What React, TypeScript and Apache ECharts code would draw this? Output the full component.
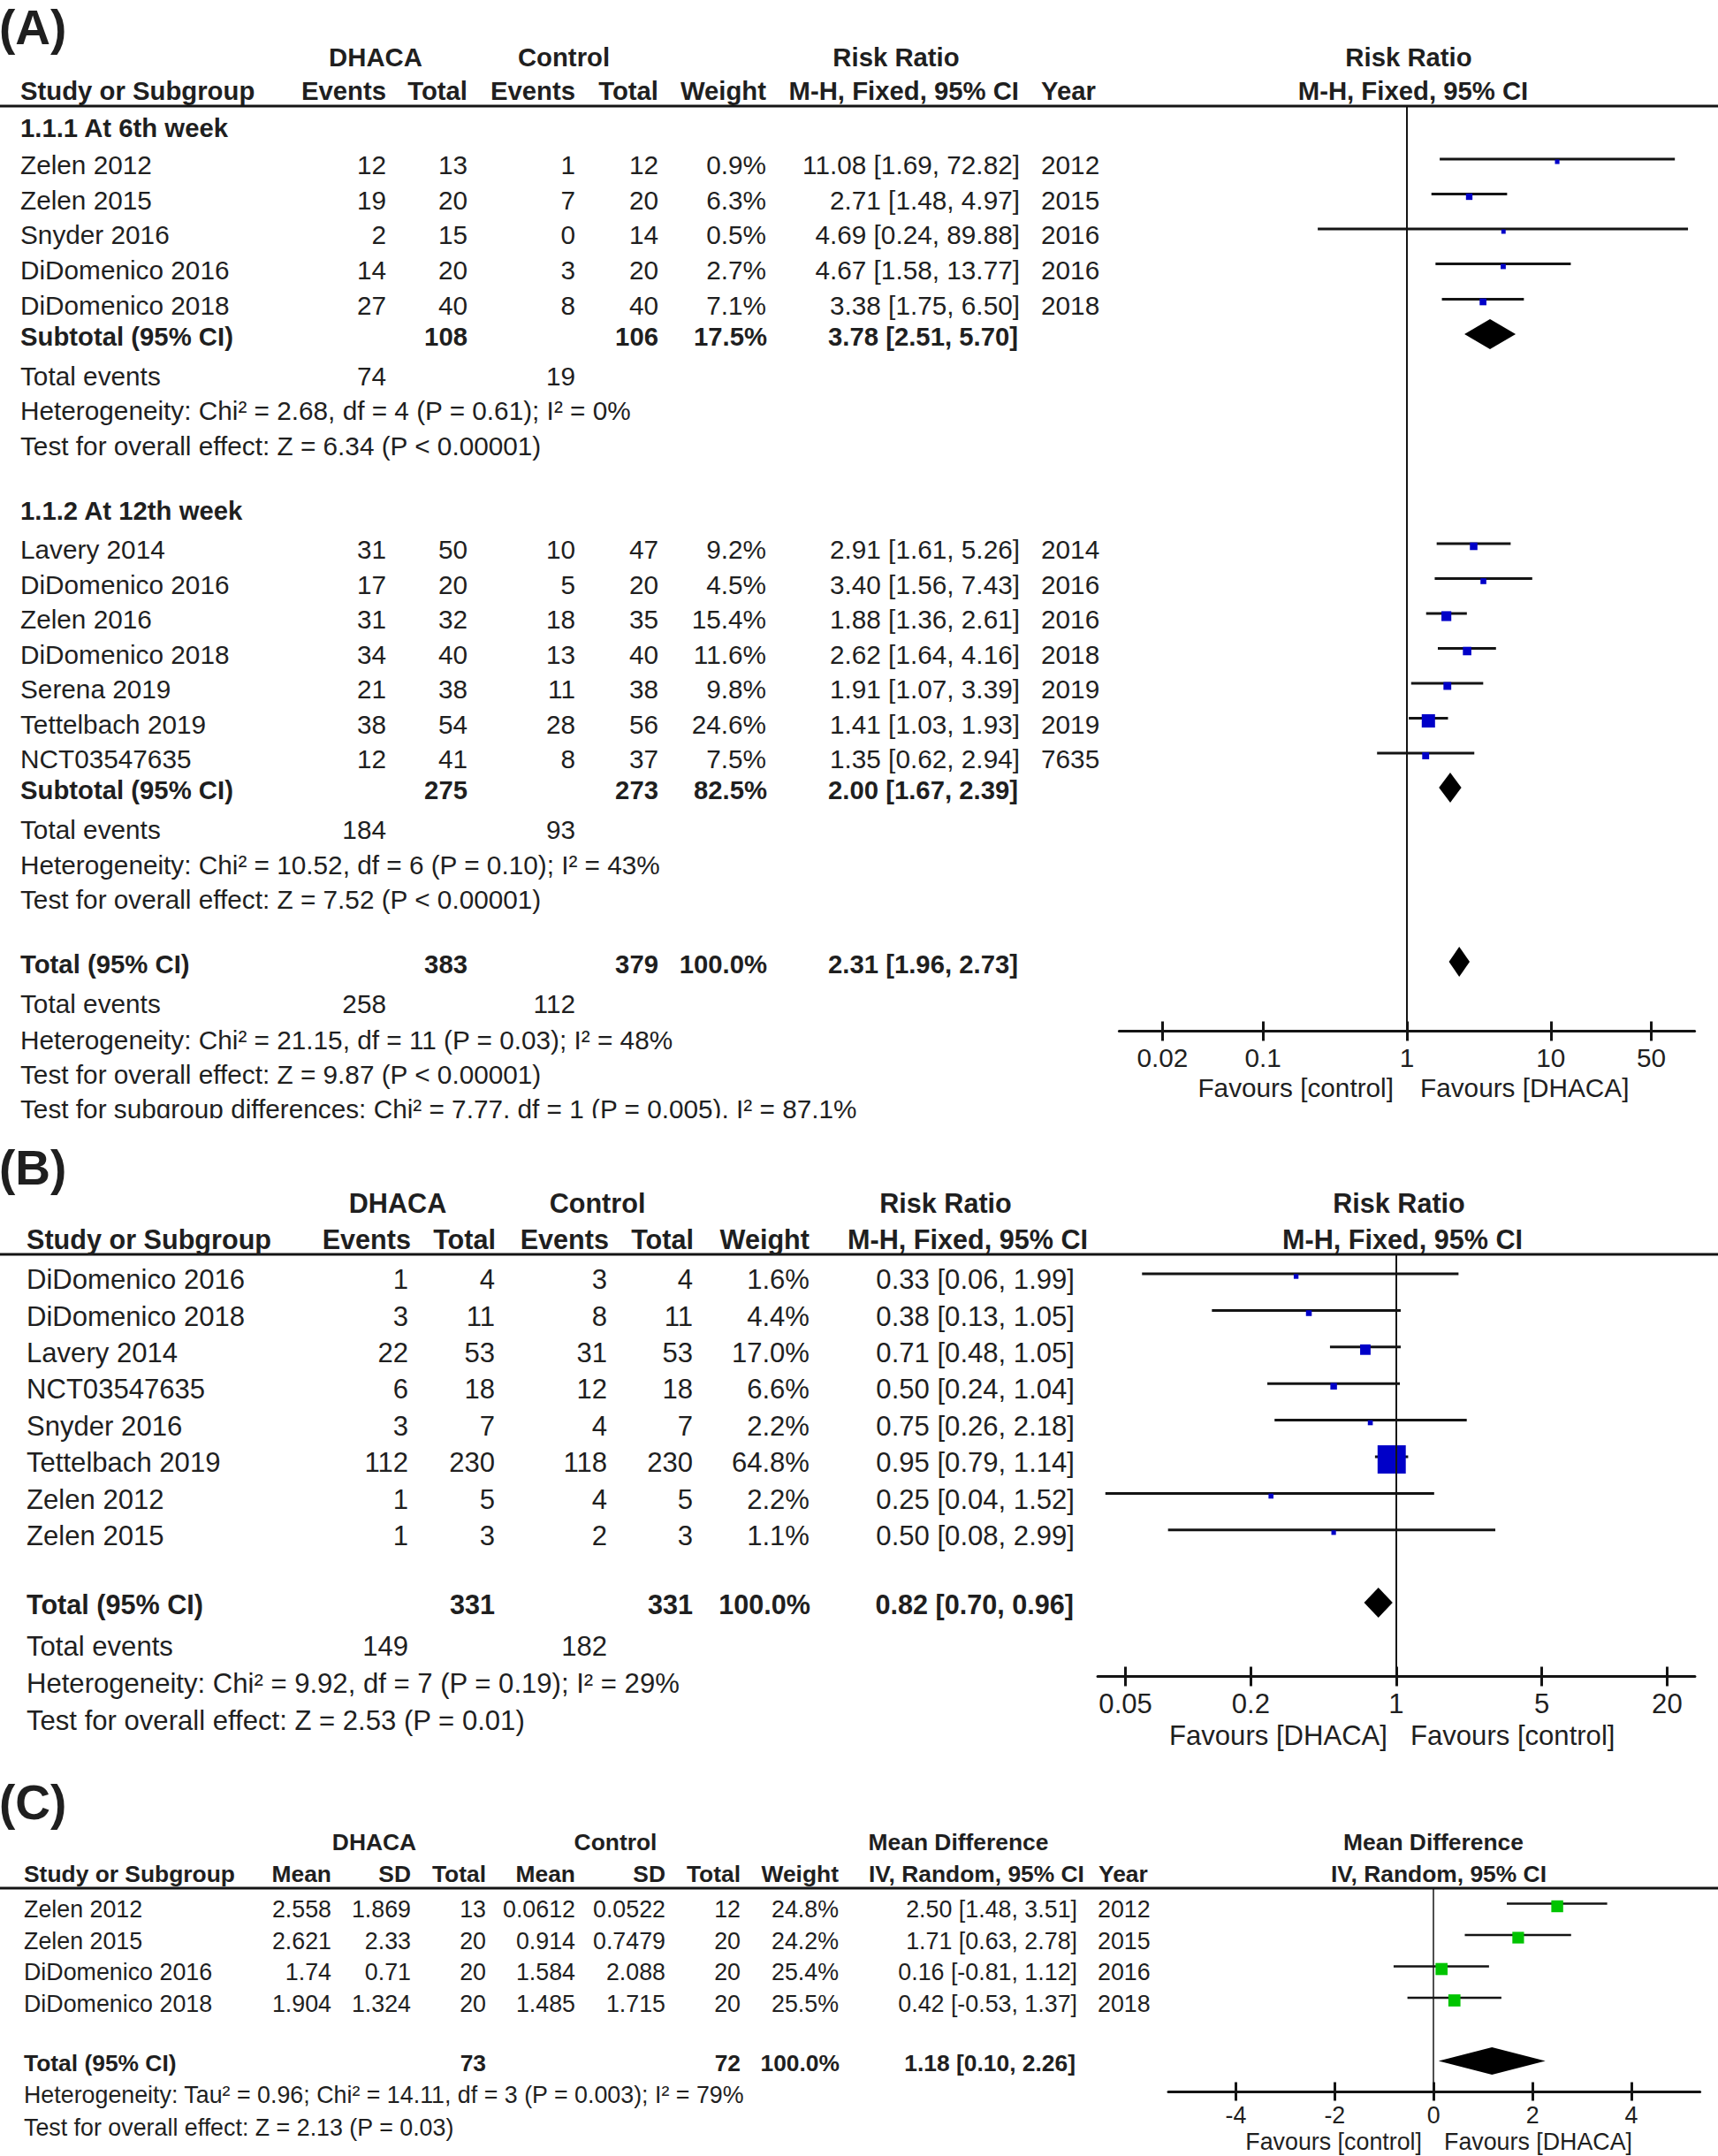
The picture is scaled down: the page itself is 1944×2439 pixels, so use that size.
import React, { useEffect, useRef } from "react";
import * as echarts from "echarts";

// ================= Panel (A) data =================
const A1_TITLE = "1.1.1 At 6th week";
const A1_STUDY = ["Zelen 2012", "Zelen 2015", "Snyder 2016", "DiDomenico 2016", "DiDomenico 2018"];
const A1_EV_D = [12, 19, 2, 14, 27];
const A1_TOT_D = [13, 20, 15, 20, 40];
const A1_EV_C = [1, 7, 0, 3, 8];
const A1_TOT_C = [12, 20, 14, 20, 40];
const A1_WEIGHT = [0.9, 6.3, 0.5, 2.7, 7.1];
const A1_RR = [11.08, 2.71, 4.69, 4.67, 3.38];
const A1_LO = [1.69, 1.48, 0.24, 1.58, 1.75];
const A1_HI = [72.82, 4.97, 89.88, 13.77, 6.5];
const A1_YEAR = ["2012", "2015", "2016", "2016", "2018"];
const A1_SUB_N = [108, 106];
const A1_SUB_WEIGHT = 17.5;
const A1_SUB_EST = [3.78, 2.51, 5.7];
const A1_EVENTS = [74, 19];
const A1_STATS = [
  "Heterogeneity: Chi\u00b2 = 2.68, df = 4 (P = 0.61); I\u00b2 = 0%",
  "Test for overall effect: Z = 6.34 (P < 0.00001)",
];

const A2_TITLE = "1.1.2 At 12th week";
const A2_STUDY = ["Lavery 2014", "DiDomenico 2016", "Zelen 2016", "DiDomenico 2018", "Serena 2019", "Tettelbach 2019", "NCT03547635"];
const A2_EV_D = [31, 17, 31, 34, 21, 38, 12];
const A2_TOT_D = [50, 20, 32, 40, 38, 54, 41];
const A2_EV_C = [10, 5, 18, 13, 11, 28, 8];
const A2_TOT_C = [47, 20, 35, 40, 38, 56, 37];
const A2_WEIGHT = [9.2, 4.5, 15.4, 11.6, 9.8, 24.6, 7.5];
const A2_RR = [2.91, 3.4, 1.88, 2.62, 1.91, 1.41, 1.35];
const A2_LO = [1.61, 1.56, 1.36, 1.64, 1.07, 1.03, 0.62];
const A2_HI = [5.26, 7.43, 2.61, 4.16, 3.39, 1.93, 2.94];
const A2_YEAR = ["2014", "2016", "2016", "2018", "2019", "2019", "7635"];
const A2_SUB_N = [275, 273];
const A2_SUB_WEIGHT = 82.5;
const A2_SUB_EST = [2.0, 1.67, 2.39];
const A2_EVENTS = [184, 93];
const A2_STATS = [
  "Heterogeneity: Chi\u00b2 = 10.52, df = 6 (P = 0.10); I\u00b2 = 43%",
  "Test for overall effect: Z = 7.52 (P < 0.00001)",
];

const A_TOT_N = [383, 379];
const A_TOT_WEIGHT = 100.0;
const A_TOT_EST = [2.31, 1.96, 2.73];
const A_EVENTS = [258, 112];
const A_STATS = [
  "Heterogeneity: Chi\u00b2 = 21.15, df = 11 (P = 0.03); I\u00b2 = 48%",
  "Test for overall effect: Z = 9.87 (P < 0.00001)",
  "Test for subgroup differences: Chi\u00b2 = 7.77, df = 1 (P = 0.005), I\u00b2 = 87.1%",
];
const A_TICKS = [0.02, 0.1, 1, 10, 50];
const A_FAVOURS = ["Favours [control]", "Favours [DHACA]"];

// ================= Panel (B) data =================
const B_STUDY = ["DiDomenico 2016", "DiDomenico 2018", "Lavery 2014", "NCT03547635", "Snyder 2016", "Tettelbach 2019", "Zelen 2012", "Zelen 2015"];
const B_EV_D = [1, 3, 22, 6, 3, 112, 1, 1];
const B_TOT_D = [4, 11, 53, 18, 7, 230, 5, 3];
const B_EV_C = [3, 8, 31, 12, 4, 118, 4, 2];
const B_TOT_C = [4, 11, 53, 18, 7, 230, 5, 3];
const B_WEIGHT = [1.6, 4.4, 17.0, 6.6, 2.2, 64.8, 2.2, 1.1];
const B_RR = [0.33, 0.38, 0.71, 0.5, 0.75, 0.95, 0.25, 0.5];
const B_LO = [0.06, 0.13, 0.48, 0.24, 0.26, 0.79, 0.04, 0.08];
const B_HI = [1.99, 1.05, 1.05, 1.04, 2.18, 1.14, 1.52, 2.99];
const B_TOT_N = [331, 331];
const B_TOT_WEIGHT = 100.0;
const B_TOT_EST = [0.82, 0.7, 0.96];
const B_EVENTS = [149, 182];
const B_STATS = [
  "Heterogeneity: Chi\u00b2 = 9.92, df = 7 (P = 0.19); I\u00b2 = 29%",
  "Test for overall effect: Z = 2.53 (P = 0.01)",
];
const B_TICKS = [0.05, 0.2, 1, 5, 20];
const B_FAVOURS = ["Favours [DHACA]", "Favours [control]"];

// ================= Panel (C) data =================
const C_STUDY = ["Zelen 2012", "Zelen 2015", "DiDomenico 2016", "DiDomenico 2018"];
const C_MEAN_D = ["2.558", "2.621", "1.74", "1.904"];
const C_SD_D = ["1.869", "2.33", "0.71", "1.324"];
const C_N_D = [13, 20, 20, 20];
const C_MEAN_C = ["0.0612", "0.914", "1.584", "1.485"];
const C_SD_C = ["0.0522", "0.7479", "2.088", "1.715"];
const C_N_C = [12, 20, 20, 20];
const C_WEIGHT = [24.8, 24.2, 25.4, 25.5];
const C_MD = [2.5, 1.71, 0.16, 0.42];
const C_LO = [1.48, 0.63, -0.81, -0.53];
const C_HI = [3.51, 2.78, 1.12, 1.37];
const C_YEAR = ["2012", "2015", "2016", "2018"];
const C_TOT_N = [73, 72];
const C_TOT_WEIGHT = 100.0;
const C_TOT_EST = [1.18, 0.1, 2.26];
const C_STATS = [
  "Heterogeneity: Tau\u00b2 = 0.96; Chi\u00b2 = 14.11, df = 3 (P = 0.003); I\u00b2 = 79%",
  "Test for overall effect: Z = 2.13 (P = 0.03)",
];
const C_TICKS = [-4, -2, 0, 2, 4];
const C_FAVOURS = ["Favours [control]", "Favours [DHACA]"];

// ================= header texts =================
const GROUPS = ["DHACA", "Control"];
const RR_HEAD = ["Risk Ratio", "M-H, Fixed, 95% CI"];
const MD_HEAD = ["Mean Difference", "IV, Random, 95% CI"];
const COL_HEAD = ["Study or Subgroup", "Events", "Total", "Weight", "Year", "Mean", "SD"];
const ROW_HEAD = ["Subtotal (95% CI)", "Total (95% CI)", "Total events"];
const PANEL_TAGS = ["(A)", "(B)", "(C)"];

// ================= styling =================
const FONT = "'Liberation Sans', Arial, Helvetica, sans-serif";
const INK = "#1f1f1f";
const LINE = "#141414";
const BLUE = "#0000c8";
const GREEN = "#00c400";
const REG = 1.016; // regular weight renders slightly narrower than the source

function T(text: any, x: number, y: number, fs: number, align = "left", bold = false): any {
  return {
    type: "text",
    x,
    y,
    silent: true,
    z: 10,
    style: {
      text: String(text),
      fontSize: bold ? fs : fs * REG,
      fontFamily: FONT,
      fontWeight: bold ? "bold" : "normal",
      fill: INK,
      align,
      verticalAlign: "middle",
      textAlign: align,
      textVerticalAlign: "middle",
    },
  };
}
function HL(y: number, x1 = 0, x2 = 1944, w = 3): any {
  return { type: "line", silent: true, z: 5, shape: { x1, y1: y, x2, y2: y }, style: { stroke: LINE, lineWidth: w } };
}
const f2 = (v: number) => v.toFixed(2);
const est = (e: number[]) => `${f2(e[0])} [${f2(e[1])}, ${f2(e[2])}]`;
const pct = (w: number) => `${w.toFixed(1)}%`;
const lg = Math.log10;
const ident = (v: number) => v;

// layout (pixels)
const AX = { name: 23, evD: 437, totD: 529, evC: 651, totC: 745, w: 867, est: 1154, year: 1178 };
const AY = {
  h1: 64, h2: 102, rule: 120, t1: 144,
  s1: [186.5, 226, 265.5, 305, 345], sub1: 380, ev1: 425, st1: [464, 504],
  t2: 577, s2: [621.5, 661, 700.5, 740, 779.5, 819, 858.5], sub2: 893, ev2: 938, st2: [978, 1017],
  tot: 1090, evT: 1135, stT: [1176, 1215, 1254],
};
const BX = { name: 30, evD: 462, totD: 560, evC: 687, totC: 784, w: 916, est: 1216 };
const BY = { h1: 1361, h2: 1402, rule: 1419, s: [1447.5, 1489, 1530.3, 1571.7, 1613, 1654.5, 1696, 1737.3], tot: 1815, ev: 1862, st: [1904, 1946] };
const CX = { name: 27, m1: 375, sd1: 465, n1: 550, m2: 651, sd2: 753, n2: 838, w: 949, est: 1219, year: 1242 };
const CY = { h1: 2084, h2: 2120, rule: 2136, s: [2160, 2195.5, 2231, 2266.5], tot: 2333.5, st: [2370, 2407] };

const GRIDS = [
  { left: 1266.4, top: 121, width: 651.2, height: 1045.5, min: -2, max: 2 },
  { left: 1242.05, top: 1419, width: 675.9, height: 477.5, min: -1.435, max: 1.435 },
  { left: 1322, top: 2136, width: 601.6, height: 230, min: -5.367, max: 5.387 },
];

function buildOption(): any {
  const G: any[] = [];
  const fa = 29.3, fb = 30.6, fc = 26.4;

  // ---------- Panel A text ----------
  G.push(T(PANEL_TAGS[0], -1, 31, 55, "left", true));
  G.push(T(GROUPS[0], 425, AY.h1, fa, "center", true));
  G.push(T(GROUPS[1], 638, AY.h1, fa, "center", true));
  G.push(T(RR_HEAD[0], 1014, AY.h1, fa, "center", true));
  G.push(T(RR_HEAD[0], 1594, AY.h1, fa, "center", true));
  G.push(T(COL_HEAD[0], AX.name, AY.h2, fa, "left", true));
  G.push(T(COL_HEAD[1], AX.evD, AY.h2, fa, "right", true));
  G.push(T(COL_HEAD[2], AX.totD, AY.h2, fa, "right", true));
  G.push(T(COL_HEAD[1], AX.evC, AY.h2, fa, "right", true));
  G.push(T(COL_HEAD[2], AX.totC, AY.h2, fa, "right", true));
  G.push(T(COL_HEAD[3], AX.w, AY.h2, fa, "right", true));
  G.push(T(RR_HEAD[1], 1153, AY.h2, fa, "right", true));
  G.push(T(COL_HEAD[4], AX.year, AY.h2, fa, "left", true));
  G.push(T(RR_HEAD[1], 1599, AY.h2, fa, "center", true));
  G.push(HL(AY.rule));

  const evRows = (names: string[], evD: number[], totD: number[], evC: number[], totC: number[], w: number[], rr: number[], lo: number[], hi: number[], yr: string[] | null, ys: number[], X: any, fs: number) => {
    names.forEach((n, i) => {
      const y = ys[i];
      G.push(T(n, X.name, y, fs));
      G.push(T(evD[i], X.evD, y, fs, "right"));
      G.push(T(totD[i], X.totD, y, fs, "right"));
      G.push(T(evC[i], X.evC, y, fs, "right"));
      G.push(T(totC[i], X.totC, y, fs, "right"));
      G.push(T(pct(w[i]), X.w, y, fs, "right"));
      G.push(T(est([rr[i], lo[i], hi[i]]), X.est, y, fs, "right"));
      if (yr) G.push(T(yr[i], X.year, y, fs));
    });
  };
  const totRow = (label: string, n: number[], w: number, e: number[], y: number, X: any, fs: number, estX: number) => {
    G.push(T(label, X.name, y, fs, "left", true));
    G.push(T(n[0], X.totD, y, fs, "right", true));
    G.push(T(n[1], X.totC, y, fs, "right", true));
    G.push(T(pct(w), X.w + 1, y, fs, "right", true));
    G.push(T(est(e), estX, y, fs, "right", true));
  };
  const evTot = (ev: number[], y: number, X: any, fs: number) => {
    G.push(T(ROW_HEAD[2], X.name, y, fs));
    G.push(T(ev[0], X.evD, y, fs, "right"));
    G.push(T(ev[1], X.evC, y, fs, "right"));
  };

  G.push(T(A1_TITLE, AX.name, AY.t1, fa, "left", true));
  evRows(A1_STUDY, A1_EV_D, A1_TOT_D, A1_EV_C, A1_TOT_C, A1_WEIGHT, A1_RR, A1_LO, A1_HI, A1_YEAR, AY.s1, AX, fa);
  totRow(ROW_HEAD[0], A1_SUB_N, A1_SUB_WEIGHT, A1_SUB_EST, AY.sub1, AX, fa, 1152);
  evTot(A1_EVENTS, AY.ev1, AX, fa);
  A1_STATS.forEach((s, i) => G.push(T(s, AX.name, AY.st1[i], fa)));

  G.push(T(A2_TITLE, AX.name, AY.t2, fa, "left", true));
  evRows(A2_STUDY, A2_EV_D, A2_TOT_D, A2_EV_C, A2_TOT_C, A2_WEIGHT, A2_RR, A2_LO, A2_HI, A2_YEAR, AY.s2, AX, fa);
  totRow(ROW_HEAD[0], A2_SUB_N, A2_SUB_WEIGHT, A2_SUB_EST, AY.sub2, AX, fa, 1152);
  evTot(A2_EVENTS, AY.ev2, AX, fa);
  A2_STATS.forEach((s, i) => G.push(T(s, AX.name, AY.st2[i], fa)));

  totRow(ROW_HEAD[1], A_TOT_N, A_TOT_WEIGHT, A_TOT_EST, AY.tot, AX, fa, 1152);
  evTot(A_EVENTS, AY.evT, AX, fa);
  A_STATS.forEach((s, i) => G.push(T(s, AX.name, AY.stT[i], fa)));
  // the source panel is cropped just below its last line
  G.push({ type: "rect", silent: true, z: 20, shape: { x: 0, y: 1265, width: 1200, height: 22 }, style: { fill: "#fff" } });
  G.push(T(A_FAVOURS[0], 1577, 1230, fa, "right"));
  G.push(T(A_FAVOURS[1], 1607, 1230, fa, "left"));

  // ---------- Panel B text ----------
  G.push(T(PANEL_TAGS[1], -1, 1321, 55, "left", true));
  G.push(T(GROUPS[0], 450, BY.h1, fb, "center", true));
  G.push(T(GROUPS[1], 676, BY.h1, fb, "center", true));
  G.push(T(RR_HEAD[0], 1070, BY.h1, fb, "center", true));
  G.push(T(RR_HEAD[0], 1583, BY.h1, fb, "center", true));
  G.push(T(COL_HEAD[0], BX.name, BY.h2, fb, "left", true));
  G.push(T(COL_HEAD[1], 465, BY.h2, fb, "right", true));
  G.push(T(COL_HEAD[2], 561, BY.h2, fb, "right", true));
  G.push(T(COL_HEAD[1], 689, BY.h2, fb, "right", true));
  G.push(T(COL_HEAD[2], 785, BY.h2, fb, "right", true));
  G.push(T(COL_HEAD[3], BX.w, BY.h2, fb, "right", true));
  G.push(T(RR_HEAD[1], 1231, BY.h2, fb, "right", true));
  G.push(T(RR_HEAD[1], 1587, BY.h2, fb, "center", true));
  G.push(HL(BY.rule));
  evRows(B_STUDY, B_EV_D, B_TOT_D, B_EV_C, B_TOT_C, B_WEIGHT, B_RR, B_LO, B_HI, null, BY.s, BX, fb);
  totRow(ROW_HEAD[1], B_TOT_N, B_TOT_WEIGHT, B_TOT_EST, BY.tot, BX, fb, 1215);
  evTot(B_EVENTS, BY.ev, BX, fb);
  B_STATS.forEach((s, i) => G.push(T(s, BX.name, BY.st[i], fb)));
  G.push(T(B_FAVOURS[0], 1570, 1963, fb, "right"));
  G.push(T(B_FAVOURS[1], 1596, 1963, fb, "left"));

  // ---------- Panel C text ----------
  G.push(T(PANEL_TAGS[2], -1, 2039, 55, "left", true));
  G.push(T(GROUPS[0], 423.5, CY.h1, fc, "center", true));
  G.push(T(GROUPS[1], 696.5, CY.h1, fc, "center", true));
  G.push(T(MD_HEAD[0], 1084.5, CY.h1, fc, "center", true));
  G.push(T(MD_HEAD[0], 1622, CY.h1, fc, "center", true));
  G.push(T(COL_HEAD[0], CX.name, CY.h2, fc, "left", true));
  G.push(T(COL_HEAD[5], CX.m1, CY.h2, fc, "right", true));
  G.push(T(COL_HEAD[6], CX.sd1, CY.h2, fc, "right", true));
  G.push(T(COL_HEAD[2], CX.n1, CY.h2, fc, "right", true));
  G.push(T(COL_HEAD[5], CX.m2, CY.h2, fc, "right", true));
  G.push(T(COL_HEAD[6], CX.sd2, CY.h2, fc, "right", true));
  G.push(T(COL_HEAD[2], CX.n2, CY.h2, fc, "right", true));
  G.push(T(COL_HEAD[3], CX.w, CY.h2, fc, "right", true));
  G.push(T(MD_HEAD[1], 983, CY.h2, fc, "left", true));
  G.push(T(COL_HEAD[4], 1243, CY.h2, fc, "left", true));
  G.push(T(MD_HEAD[1], 1628, CY.h2, fc, "center", true));
  G.push(HL(CY.rule));
  C_STUDY.forEach((n, i) => {
    const y = CY.s[i];
    G.push(T(n, CX.name, y, fc));
    G.push(T(C_MEAN_D[i], CX.m1, y, fc, "right"));
    G.push(T(C_SD_D[i], CX.sd1, y, fc, "right"));
    G.push(T(C_N_D[i], CX.n1, y, fc, "right"));
    G.push(T(C_MEAN_C[i], CX.m2, y, fc, "right"));
    G.push(T(C_SD_C[i], CX.sd2, y, fc, "right"));
    G.push(T(C_N_C[i], CX.n2, y, fc, "right"));
    G.push(T(pct(C_WEIGHT[i]), CX.w, y, fc, "right"));
    G.push(T(est([C_MD[i], C_LO[i], C_HI[i]]), CX.est, y, fc, "right"));
    G.push(T(C_YEAR[i], CX.year, y, fc));
  });
  G.push(T(ROW_HEAD[1], CX.name, CY.tot, fc, "left", true));
  G.push(T(C_TOT_N[0], CX.n1, CY.tot, fc, "right", true));
  G.push(T(C_TOT_N[1], CX.n2, CY.tot, fc, "right", true));
  G.push(T(pct(C_TOT_WEIGHT), CX.w + 1, CY.tot, fc, "right", true));
  G.push(T(est(C_TOT_EST), 1217, CY.tot, fc, "right", true));
  C_STATS.forEach((s, i) => G.push(T(s, CX.name, CY.st[i], fc)));
  G.push(T(C_FAVOURS[0], 1609, 2423, fc, "right"));
  G.push(T(C_FAVOURS[1], 1634, 2423, fc, "left"));

  // ---------- forest plots ----------
  const szAB = (w: number) => 4.7 + 0.42 * w;
  const szC = (w: number) => 4 + 0.38 * w;
  const pts = (rr: number[], lo: number[], hi: number[], w: number[], ys: number[], f: (v: number) => number, sz: (w: number) => number) =>
    rr.map((r, i) => [f(r), f(lo[i]), f(hi[i]), ys[i] - 6.5, sz(w[i])]);
  const dia = (e: number[], y: number, h: number, f: (v: number) => number) => [f(e[0]), f(e[1]), f(e[2]), y - 2, h];

  const studySeries = (g: number, data: any[], color: string, lw: number) => ({
    type: "custom",
    coordinateSystem: "cartesian2d",
    xAxisIndex: g * 2,
    yAxisIndex: g,
    z: 4,
    silent: true,
    data,
    renderItem: (_p: any, api: any) => {
      const y = api.value(3);
      const a = api.coord([api.value(1), y]);
      const b = api.coord([api.value(2), y]);
      const c = api.coord([api.value(0), y]);
      const s = api.value(4);
      return {
        type: "group",
        children: [
          { type: "line", shape: { x1: a[0], y1: a[1], x2: b[0], y2: b[1] }, style: { stroke: LINE, lineWidth: lw } },
          { type: "rect", shape: { x: c[0] - s / 2, y: c[1] + 3 - s / 2, width: s, height: s }, style: { fill: color } },
        ],
      };
    },
  });
  const diamondSeries = (g: number, data: any[], refW: number) => ({
    type: "custom",
    coordinateSystem: "cartesian2d",
    xAxisIndex: g * 2,
    yAxisIndex: g,
    z: 3,
    silent: true,
    data,
    renderItem: (_p: any, api: any) => {
      const y = api.value(3);
      const h = api.value(4);
      const c = api.coord([api.value(0), y]);
      const a = api.coord([api.value(1), y]);
      const b = api.coord([api.value(2), y]);
      return {
        type: "polygon",
        shape: { points: [[a[0], c[1]], [c[0], c[1] - h], [b[0], c[1]], [c[0], c[1] + h]] },
        style: { fill: "#000" },
      };
    },
    markLine: {
      silent: true,
      symbol: ["none", "none"],
      label: { show: false },
      lineStyle: { color: LINE, width: refW, type: "solid" },
      data: [{ xAxis: 0 }],
    },
  });

  const series = [
    diamondSeries(0, [dia(A1_SUB_EST, AY.sub1, 17, lg), dia(A2_SUB_EST, AY.sub2, 17, lg), dia(A_TOT_EST, AY.tot, 17, lg)], 2),
    studySeries(0, [...pts(A1_RR, A1_LO, A1_HI, A1_WEIGHT, AY.s1, lg, szAB), ...pts(A2_RR, A2_LO, A2_HI, A2_WEIGHT, AY.s2, lg, szAB)], BLUE, 3),
    diamondSeries(1, [dia(B_TOT_EST, BY.tot, 17, lg)], 2),
    studySeries(1, pts(B_RR, B_LO, B_HI, B_WEIGHT, BY.s, lg, szAB), BLUE, 3),
    diamondSeries(2, [dia(C_TOT_EST, CY.tot, 15.5, ident)], 1.5),
    studySeries(2, pts(C_MD, C_LO, C_HI, C_WEIGHT, CY.s, ident, szC), GREEN, 2.5),
  ];

  const tickSets = [
    { ticks: A_TICKS.map(lg), labels: A_TICKS, fs: fa * REG, margin: 15, len: 11 },
    { ticks: B_TICKS.map(lg), labels: B_TICKS, fs: fb * REG, margin: 15, len: 11 },
    { ticks: C_TICKS, labels: C_TICKS, fs: fc * REG, margin: 13, len: 10.5 },
  ];
  const xAxis: any[] = [];
  const yAxis: any[] = [];
  GRIDS.forEach((gr, g) => {
    const ts = tickSets[g];
    const fmt = (v: number) => {
      const i = ts.ticks.findIndex((t) => Math.abs(t - v) < 1e-6);
      return i >= 0 ? String(ts.labels[i]) : "";
    };
    xAxis.push({
      type: "value", gridIndex: g, min: gr.min, max: gr.max, position: "bottom",
      axisLine: { show: true, onZero: false, lineStyle: { color: LINE, width: 3 } },
      axisTick: { show: true, inside: false, length: ts.len, customValues: ts.ticks, lineStyle: { color: LINE, width: 3 } },
      axisLabel: { show: true, customValues: ts.ticks, formatter: fmt, fontSize: ts.fs, fontFamily: FONT, color: INK, margin: ts.margin },
      splitLine: { show: false },
    });
    xAxis.push({
      type: "value", gridIndex: g, min: gr.min, max: gr.max, position: "bottom",
      axisLine: { show: false, onZero: false },
      axisTick: { show: true, inside: true, length: ts.len, customValues: ts.ticks, lineStyle: { color: LINE, width: 3 } },
      axisLabel: { show: false },
      splitLine: { show: false },
    });
    yAxis.push({ type: "value", gridIndex: g, min: gr.top, max: gr.top + gr.height, inverse: true, show: false });
  });

  return {
    animation: false,
    backgroundColor: "#ffffff",
    grid: GRIDS.map((g) => ({ left: g.left, top: g.top, width: g.width, height: g.height, containLabel: false, outerBoundsMode: "none" })),
    xAxis,
    yAxis,
    series,
    graphic: { elements: G },
  };
}

export default function App() {
  const ref = useRef<HTMLDivElement>(null);
  useEffect(() => {
    const chart = echarts.init(ref.current!, null, { renderer: "svg" });
    chart.setOption(buildOption());
    return () => chart.dispose();
  }, []);
  return (
    <div
      ref={ref}
      style={{ position: "absolute", left: 0, top: 0, width: 1944, height: 2439, background: "#fff" }}
    />
  );
}
